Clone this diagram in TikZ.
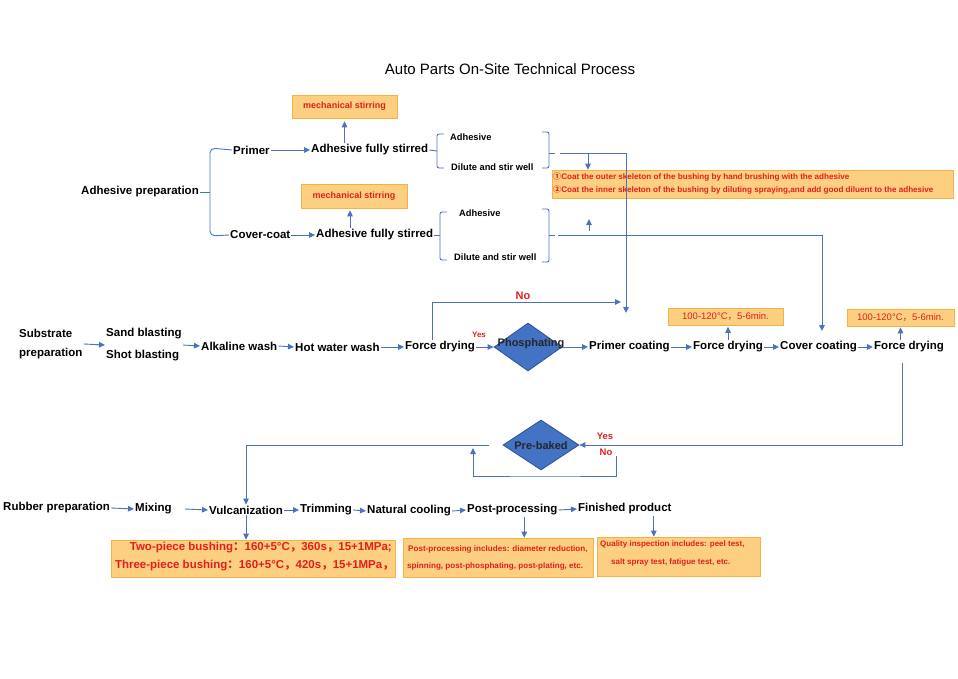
\documentclass[tikz,border=0pt]{standalone}
\usepackage{fontspec}
\setmainfont{Liberation Sans}
\newfontfamily\cjk{Noto Sans CJK SC}
\newfontfamily\dvs{DejaVu Sans}
\usetikzlibrary{shapes.geometric,arrows.meta}
\definecolor{lnc}{RGB}{74,114,190}
\definecolor{boxf}{RGB}{252,208,128}
\definecolor{boxl}{RGB}{242,178,72}
\definecolor{rtx}{RGB}{228,30,30}
\definecolor{dfill}{RGB}{68,114,196}
\definecolor{dline}{RGB}{47,82,143}
\begin{document}
\begin{tikzpicture}[x=1pt,y=-1pt,
  lbl/.style={font=\bfseries\fontsize{11.5}{13}\selectfont, inner sep=1pt, anchor=west},
  sml/.style={font=\bfseries\fontsize{9.3}{11}\selectfont, inner sep=1pt, anchor=west},
  notebox/.style={draw=boxl, fill=boxf, line width=0.6pt, inner sep=0pt, text=rtx},
  ntx/.style={text=rtx, font=\bfseries\fontsize{8.1}{9}\selectfont, inner sep=0pt, anchor=west},
  ptx/.style={text=rtx, font=\bfseries\fontsize{8.1}{9}\selectfont, inner sep=0pt, anchor=west},
  qtx/.style={text=rtx, font=\bfseries\fontsize{8}{9}\selectfont, inner sep=0pt, anchor=west},
  vtx/.style={text=rtx, font=\bfseries\fontsize{11.5}{13}\selectfont, inner sep=0pt, anchor=east},
  conn/.style={draw=lnc, line width=0.9pt},
  arr/.style={conn, -{Triangle[width=5.5pt,length=6pt]}},
  dmd/.style={diamond, draw=dline, fill=dfill, line width=0.8pt, inner sep=0pt},
  ynlbl/.style={text=rtx, inner sep=0pt}]
\path[use as bounding box] (0,0) rectangle (958,679);
\node[font=\fontsize{15}{18}\selectfont] (title) at (510,69) {Auto Parts On-Site Technical Process};

% ---------- adhesive preparation ----------
\node[lbl] (adprep) at (80,192) {Adhesive preparation};
\node[lbl] (primer) at (232,150) {Primer};
\node[lbl] (cover) at (229,235) {Cover-coat};
\node[lbl] (afs1) at (310,150) {Adhesive fully stirred};
\node[lbl] (afs2) at (315,235) {Adhesive fully stirred};
\node[notebox, minimum width=105pt, minimum height=23pt, font=\bfseries\fontsize{9}{10}\selectfont] (ms1) at (344.5,106.5) {mechanical stirring};
\node[notebox, minimum width=106pt, minimum height=24pt, font=\bfseries\fontsize{9}{10}\selectfont] (ms2) at (354,196) {mechanical stirring};
\draw[conn] (adprep.east) -- (210,192);
\draw[conn, rounded corners=5pt] (primer.west) -- (210,148) -- (210,236) -- (cover.west);
\draw[arr] (primer.east) -- (afs1.west);
\draw[arr] (cover.east) -- (afs2.west);
\draw[arr, shorten >=3pt] (afs1.north -| ms1.south) -- (ms1.south);
\draw[arr, shorten >=2pt] (afs2.north -| 350,0) -- (ms2.south -| 350,0);

\node[sml] (adh1) at (449,137) {Adhesive};
\node[sml] (dil1) at (450,167) {Dilute and stir well};
\node[sml] (adh2) at (458,213) {Adhesive};
\node[sml] (dil2) at (453,257) {Dilute and stir well};
% brackets
\draw[conn] (afs1.east) -- (437,151);
\draw[conn, rounded corners=2pt] (444,134) -- (437,134) -- (437,168) -- (444,168);
\draw[conn, rounded corners=2pt] (542,132) -- (549,132) -- (549,168) -- (542,168);
\draw[conn] (549,153) -- (555,153);
\draw[conn] (afs2.east) -- (440,235);
\draw[conn, rounded corners=2pt] (447,212) -- (440,212) -- (440,260) -- (447,260);
\draw[conn, rounded corners=2pt] (542,209) -- (549,209) -- (549,262) -- (542,262);
\draw[conn] (549,235) -- (555,235);

\node[notebox, minimum width=401pt, minimum height=28pt] (annot) at (752.5,184) {};
\node[ntx] (an1) at (553,176.5) {{\cjk ①}Coat the outer skeleton of the bushing by hand brushing with the adhesive};
\node[ntx] (an2) at (553,190) {{\cjk ②}Coat the inner skeleton of the bushing by diluting spraying,and add good diluent to the adhesive};

\coordinate (b1r) at (560,153);
\coordinate (b2r) at (558,235);
\coordinate (j1) at (588,153);
\coordinate (j2) at (589,231);
\draw[arr] (j1) -- (j1 |- annot.north);
\draw[arr] (j2) -- (589,219);

% ---------- substrate row ----------
\node[lbl, align=left, font=\bfseries\fontsize{11.5}{19}\selectfont] (sub) at (18,344) {Substrate\\preparation};
\node[lbl, align=left, font=\bfseries\fontsize{11.5}{22}\selectfont] (blast) at (105,345) {Sand blasting\\Shot blasting};
\node[lbl] (alk) at (200,346) {Alkaline wash};
\node[lbl] (hot) at (294,347) {Hot water wash};
\node[lbl] (fd1) at (404,347) {Force drying};
\node[dmd, minimum width=68pt, minimum height=48pt] (phos) at (528,347) {};
\node[font=\bfseries\fontsize{11}{13}\selectfont, inner sep=0pt, text=black!85] (phost) at (531,344) {Phosphating};
\node[lbl] (pc) at (588,347) {Primer coating};
\node[lbl] (fd2) at (692,347) {Force drying};
\node[lbl] (cc) at (779,347) {Cover coating};
\node[lbl] (fd3) at (873,347) {Force drying};
\node[notebox, minimum width=115pt, minimum height=17pt, font=\fontsize{9.5}{11}\selectfont] (t1) at (725.5,317) {100-120°C{\cjk ，}5-6min.};
\node[notebox, minimum width=107pt, minimum height=17pt, font=\fontsize{9.5}{11}\selectfont] (t2) at (900.5,317.5) {100-120°C{\cjk ，}5-6min.};

\draw[arr] (sub.east) -- (blast.west);
\draw[arr] (blast.east) -- (alk.west);
\draw[arr] (alk.east) -- (hot.west);
\draw[arr] (hot.east) -- (fd1.west);
\draw[arr] (fd1.east) -- (phos.west);
\draw[arr] (phos.east) -- (pc.west);
\draw[arr] (pc.east) -- (fd2.west);
\draw[arr] (fd2.east) -- (cc.west);
\draw[arr] (cc.east) -- (fd3.west);
\draw[arr, shorten >=1pt] (fd2.north) -- (fd2.north |- t1.south);
\draw[arr, shorten >=1pt] (t2.south |- fd3.north) -- (t2.south);

\node[ynlbl, font=\bfseries\fontsize{8}{9}\selectfont] (yes1) at (479,335) {Yes};
\node[ynlbl, font=\bfseries\fontsize{11}{13}\selectfont] (no1) at (523,296) {No};
\coordinate (noend) at (621,302);
\draw[arr] ([xshift=-8pt]fd1.north) |- (noend);
\coordinate (pcin) at (626,313);
\draw[arr] (b1r) -| (pcin);
\coordinate (ccin) at (822,331);
\draw[arr] (b2r) -| (ccin);

% ---------- pre-baked ----------
\node[dmd, minimum width=76pt, minimum height=50pt] (preb) at (541,445) {};
\node[font=\bfseries\fontsize{11}{13}\selectfont, inner sep=0pt, text=black!85] (prebt) at (541,446) {Pre-baked};
\coordinate (fd3out) at (902,363);
\draw[arr] (fd3out) |- (preb.east);
\node[ynlbl, font=\bfseries\fontsize{9.5}{11}\selectfont] (yes2) at (605,436) {Yes};
\node[ynlbl, font=\bfseries\fontsize{9.5}{11}\selectfont] (no2) at (606,452) {No};
\coordinate (nb1) at (616,456);
\coordinate (nb2) at (473,448);
\draw[arr] (nb1) |- (545,476) -| (nb2);

% ---------- rubber row ----------
\node[lbl] (rub) at (2,508) {Rubber preparation};
\node[lbl] (mix) at (134,509) {Mixing};
\node[lbl] (vulc) at (208,510) {Vulcanization};
\node[lbl] (trim) at (299,510) {Trimming};
\node[lbl] (nat) at (366,511) {Natural cooling};
\node[lbl] (post) at (466,510) {Post-processing};
\node[lbl] (fin) at (577,509) {Finished product};
\draw[arr] ([xshift=-14pt]preb.west) -| (vulc.north);
\draw[arr] (rub.east) -- (mix.west);
\draw[arr] ([xshift=12pt]mix.east) -- (vulc.west);
\draw[arr] (vulc.east) -- (trim.west);
\draw[arr] (trim.east) -- (nat.west);
\draw[arr] (nat.east) -- (post.west);
\draw[arr] (post.east) -- (fin.west);

\node[notebox, minimum width=284pt, minimum height=37pt] (vbox) at (253,558.5) {};
\node[vtx] (v1) at (392,548) {Two-piece bushing{\cjk ：}160+5°C{\cjk ，}360s{\cjk ，}15+1MPa;};
\node[vtx] (v2) at (394,566) {Three-piece bushing{\cjk ：}160+5°C{\cjk ，}420s{\cjk ，}15+1MPa{\cjk ，}};
\node[notebox, minimum width=190pt, minimum height=39pt] (pbox) at (498,557.5) {};
\node[ptx] (p1) at (408,549) {Post-processing includes: diameter reduction,};
\node[ptx] (p2) at (407,566) {spinning, post-phosphating, post-plating, etc.};
\node[notebox, minimum width=163pt, minimum height=39pt] (qbox) at (678.5,556.5) {};
\node[qtx] (q1) at (600,544) {Quality inspection includes: peel test,};
\node[qtx] (q2) at (611,562) {salt spray test, fatigue test, etc.};
\coordinate (pp) at ([xshift=12pt]post.south);
\coordinate (fp) at ([xshift=29pt]fin.south);
\draw[arr] (vulc.south) -- (vulc.south |- vbox.north);
\draw[arr] (pp) -- (pp |- pbox.north);
\draw[arr] (fp) -- (fp |- qbox.north);
\end{tikzpicture}
\end{document}
